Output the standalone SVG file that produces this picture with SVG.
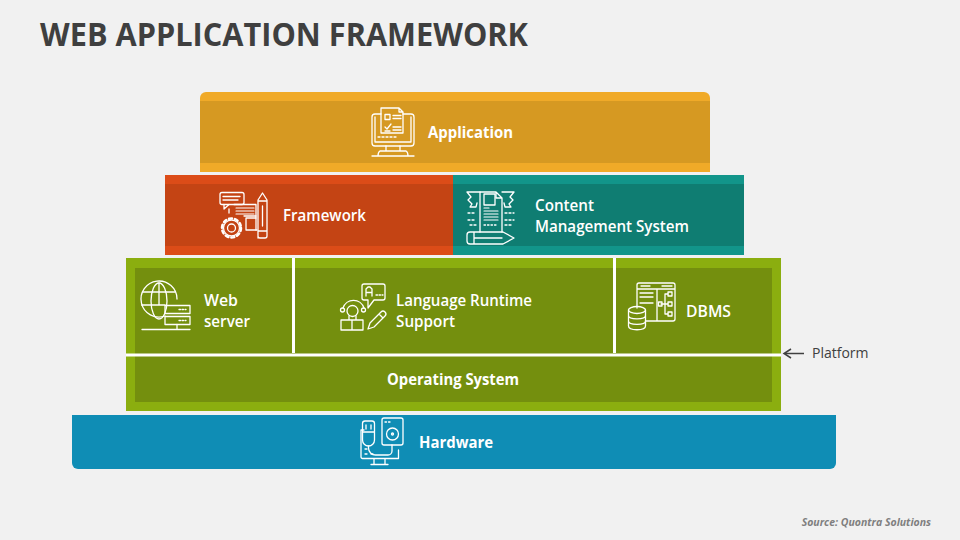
<svg xmlns="http://www.w3.org/2000/svg" width="960" height="540" viewBox="0 0 960 540">
<style>
text{font-family:"Open Sans","Noto Sans","Liberation Sans",sans-serif;fill:#fff;lengthAdjust:spacingAndGlyphs}
.b{font-weight:700;font-size:16px}
.r{font-weight:600;font-size:16px}
.i{fill:none;stroke:#fff;stroke-width:1.3;stroke-linejoin:round;stroke-linecap:round}
.s{fill:none;stroke:#fff;stroke-width:3}
</style>
<rect width="960" height="540" fill="#f1f1f1"/>
<text x="40" y="46" font-size="32" font-weight="700" style="fill:#3f3f3f" textLength="488" lengthAdjust="spacingAndGlyphs">WEB APPLICATION FRAMEWORK</text>

<g id="application">
<path d="M200 172V98a6 6 0 0 1 6-6H704a6 6 0 0 1 6 6V172Z" fill="#f0aa28"/>
<rect x="200" y="101" width="510" height="62" fill="#d69922"/>
<g class="i">
<path d="M381 114H375a3 3 0 0 0-3 3V143a3 3 0 0 0 3 3H411a3 3 0 0 0 3-3V117a3 3 0 0 0-3-3H403"/>
<path d="M375 117V142H411V117"/>
<path d="M381 133V108H399L403 112V133H381M399 108V112H403"/>
<rect x="385" y="114.500" width="5" height="5"/>
<path d="M393 115.500H401M393 118.500H401M393 127H401M393 130H401M385 131H390M385 127L387 129L391 124"/>
<path d="M378 137H397" stroke-dasharray="2 2"/>
<path d="M386 146V151H380Q378 152 378 156M400 146V151H406Q408 152 408 156M380 151H406M372 156H414"/>
</g>
<text x="428" y="138" class="b" textLength="85" lengthAdjust="spacingAndGlyphs">Application</text>
</g>

<g id="framework">
<rect x="165" y="175" width="288" height="80" fill="#dc4c18"/>
<rect x="165" y="184" width="288" height="62" fill="#c44414"/>
<g class="i">
<rect x="220" y="192.500" width="24" height="12" rx="2"/>
<path d="M224 204.500V209L229 204.500M223 196.500H240M223 200H238"/>
<path d="M234 204.500H256V230M229 209V213"/>
<path d="M236 208H254M236 211H254M236 214H254" stroke-width="1.1"/>
<path d="M244 216H256M246 230H257M246 230V218H256"/>
<circle cx="231.500" cy="228" r="8"/>
<circle cx="231.500" cy="228" r="4"/>
<circle cx="231.500" cy="228" r="9.500" stroke-width="2.500" stroke-dasharray="3 3"/>
<path d="M258 238V200L262.500 193L267 200V236a2 2 0 0 1-2 2H260a2 2 0 0 1-2-2ZM258 201H267M258 231H267M262.500 206V226"/>
</g>
<text x="283" y="221" class="r" textLength="83" lengthAdjust="spacingAndGlyphs">Framework</text>
</g>

<g id="cms">
<rect x="453" y="175" width="291" height="80" fill="#12958a"/>
<rect x="453" y="184" width="291" height="62" fill="#0f7d72"/>
<g class="i">
<path d="M480 232V192H496L502 198V232M496 192V198H502"/>
<rect x="484" y="194" width="11" height="11"/>
<path d="M484 208H489M484 211H498M484 214H498M484 217H498M484 220H498" stroke-width="1.200"/>
<path d="M484 225H498" stroke-dasharray="1.500 2"/>
<path d="M467 192H480M502 192H514M467 192L471 197L468 200L472 204L470 207H476L477 203M514 192L510 197L513 200L509 204L511 207H505L504 203"/>
<path d="M468 213H476M468 220H476M505 213H514M505 220H514M470 225H476M505 225H512" stroke-dasharray="2 2"/>
<path d="M470 232H503L514 238L503 244H470a3 3 0 0 1-3-3V235a3 3 0 0 1 3-3ZM474 232V244M474 238H502"/>
</g>
<text x="535" y="211" class="r" textLength="59" lengthAdjust="spacingAndGlyphs">Content</text>
<text x="535" y="232" class="r" textLength="154" lengthAdjust="spacingAndGlyphs">Management System</text>
</g>

<g id="platform">
<rect x="126" y="258" width="655" height="153" fill="#8bae0f"/>
<rect x="135" y="268" width="637" height="134" fill="#748f0e"/>
</g>
<g id="web-server">
<g class="i">
<path d="M165 316A18 18 0 1 1 177 299"/>
<ellipse cx="159" cy="301" rx="8" ry="18"/>
<path d="M159 283V305M143 292H175M141.500 305H165"/>
<rect x="165" y="305.500" width="25" height="8"/>
<rect x="165" y="316.500" width="25" height="8"/>
<path d="M179 309.500H186M179 320.500H186" stroke-dasharray="1.500 1.500"/>
<path d="M177 324.500V329M142 329.500H190"/>
</g>
<text x="204" y="306" class="r" textLength="34" lengthAdjust="spacingAndGlyphs">Web</text>
<text x="204" y="327" class="r" textLength="46" lengthAdjust="spacingAndGlyphs">server</text>
</g>
<g id="language-runtime">
<g class="i">
<path d="M364 284H383a2 2 0 0 1 2 2V298a2 2 0 0 1-2 2H374L368 308V300H364a2 2 0 0 1-2-2V286a2 2 0 0 1 2-2Z"/>
<path d="M366 296V289L368 287H370L372 289V296M366 292.500H372"/>
<path d="M376 295H383" stroke-dasharray="1.500 1.500"/>
<path d="M343 308A11 11 0 0 1 364 308"/>
<circle cx="342.500" cy="310" r="2"/><circle cx="363.500" cy="310" r="2"/>
<circle cx="352.500" cy="311" r="5.500"/>
<path d="M349 316V320H356V316M341 320H363V330H341ZM352 320V330"/>
<path d="M368 329L370 323L381 312A2.500 2.500 0 0 1 385 316L374 327ZM379 314L383 318"/>
</g>
<text x="396" y="306" class="r" textLength="136" lengthAdjust="spacingAndGlyphs">Language Runtime</text>
<text x="396" y="327" class="r" textLength="59" lengthAdjust="spacingAndGlyphs">Support</text>
</g>
<g id="dbms">
<g class="i">
<path d="M637 308V285a2 2 0 0 1 2-2H673a2 2 0 0 1 2 2V319a2 2 0 0 1-2 2H646M637 289H675M657 289V321M641 286H650M662 286H672"/>
<path d="M640 293H653M640 297H653M640 303H653"/>
<path d="M661 304H665M665 294V314M665 294H668M665 304H668M665 314H668"/>
<rect x="658.500" y="302" width="3.500" height="4"/>
<rect x="668" y="292" width="4" height="4"/>
<rect x="668" y="302" width="4" height="4"/>
<rect x="668" y="312" width="4" height="4"/>
<ellipse cx="637" cy="310" rx="8.500" ry="3.500"/>
<path d="M628.500 310V326C628.500 331 645.500 331 645.500 326V310M628.500 315.500C628.500 320 645.500 320 645.500 315.500M628.500 321C628.500 325.500 645.500 325.500 645.500 321"/>
</g>
<text x="686" y="317" class="r" textLength="45" lengthAdjust="spacingAndGlyphs">DBMS</text>
</g>
<g id="os">
<text x="387" y="385" class="b" textLength="132" lengthAdjust="spacingAndGlyphs">Operating System</text>
</g>
<g id="hardware">
<path d="M72 415H836V463a6 6 0 0 1-6 6H78a6 6 0 0 1-6-6Z" fill="#0f8db5"/>
<g class="i">
<path d="M364 430H361V457a1.500 1.500 0 0 0 1.500 1.500H398.500V450"/>
<path d="M366 421H372a2.500 2.500 0 0 1 2.500 2.500V440a6 6 0 0 1-12 0V423.500a2.500 2.500 0 0 1 2.500-2.500ZM362.500 432H374.500M366 425V429M371 425V429"/>
<path d="M368.500 446V448a7 7 0 0 0 7 7H388a4 4 0 0 0 4-4V445"/>
<rect x="382" y="418" width="21" height="27" rx="2"/>
<circle cx="392.500" cy="434" r="6"/>
<circle cx="392.500" cy="434" r="1"/>
<path d="M385 422H391" stroke-dasharray="1.500 2"/>
<path d="M365 449H367M365 454H367M371 454H373"/>
<path d="M374 459V464M385 459V464M371 464.500H388"/>
</g>
<text x="419" y="448" class="b" textLength="74" lengthAdjust="spacingAndGlyphs">Hardware</text>
</g>
<g id="connectors">
<path class="s" d="M126 355H781M293.500 258V353M614.500 258V353"/>
<path d="M804 353.500H785" fill="none" stroke="#404040" stroke-width="1.500"/>
<path d="M791 349L784 353.500L791 358" fill="none" stroke="#404040" stroke-width="1.500"/>
</g>
<text x="812" y="358" font-size="14" style="fill:#404040">Platform</text>
<text x="931" y="526" font-size="10.500" font-weight="700" font-style="italic" text-anchor="end" style="fill:#7f7f7f">Source: Quontra Solutions</text>
</svg>
